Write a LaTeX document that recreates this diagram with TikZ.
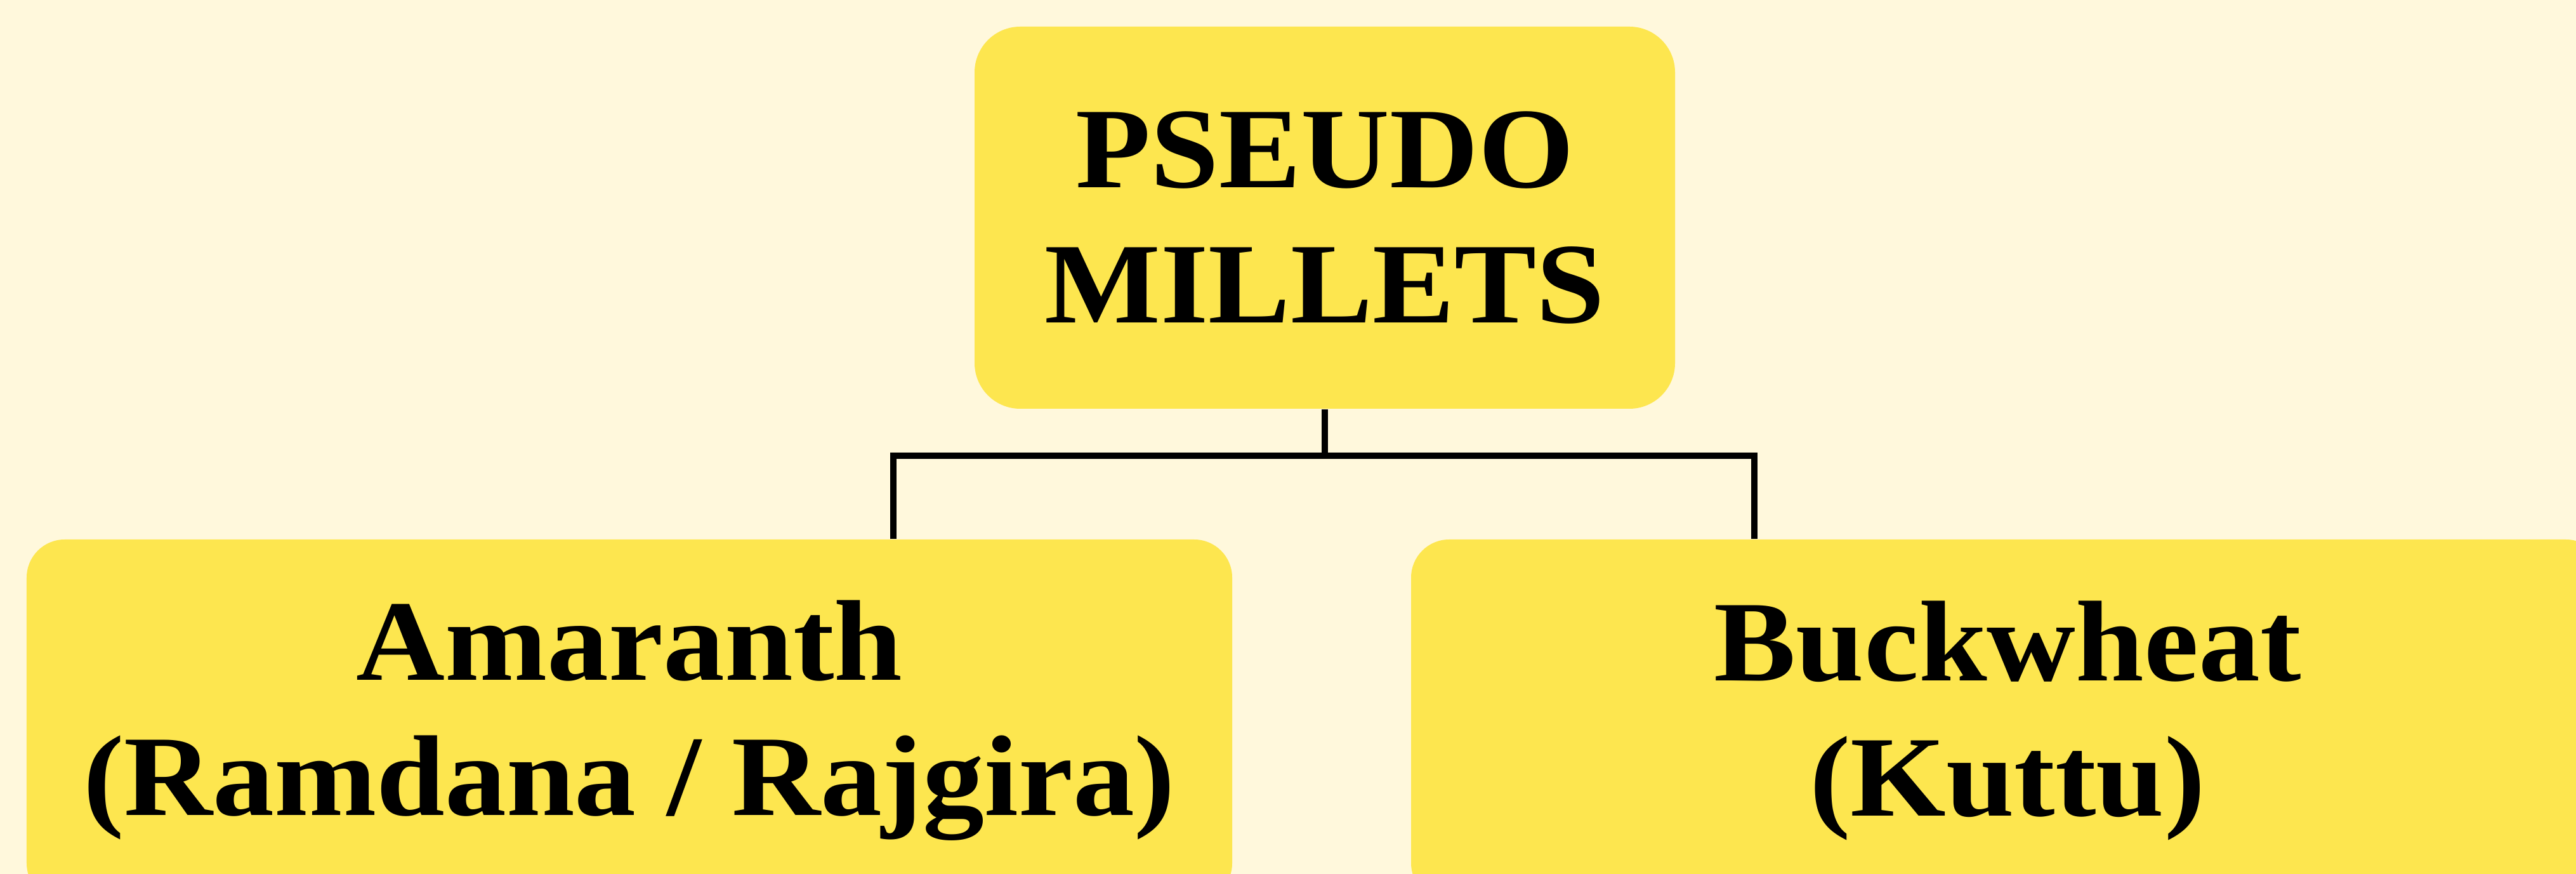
\documentclass[tikz,border=0pt]{standalone}
\usepackage{fontspec}
\setmainfont{Liberation Serif}[FakeStretch=1.07]
\usetikzlibrary{calc}

\definecolor{bgcream}{HTML}{FFF8DC}
\definecolor{boxyellow}{HTML}{FDE64F}

\tikzset{
    % Box styles - yellow, no outline
    box/.style={fill=boxyellow, draw=none, rounded corners=0.6cm, inner sep=0pt,
        align=center, font=\fontsize{51.5}{60.6}\selectfont\bfseries},
    % Connector lines
    link/.style={line width=2.85pt, black},
}

\begin{document}
\begin{tikzpicture}
    % Background
    \fill[bgcream] (0,0) rectangle (40.6,13.77);
    \useasboundingbox (0,0) rectangle (40.6,13.77);

    % Top box
    \node[box, rounded corners=0.72cm, minimum width=11.04cm, minimum height=6.02cm]
        (pm) at (20.88,10.34) {PSEUDO\\MILLETS};

    % Bottom boxes (run off the page)
    \node[box, minimum width=19cm, minimum height=5.7cm]
        (ama) at (9.92,2.42) {Amaranth\\(Ramdana / Rajgira)};
    \node[box, minimum width=18.8cm, minimum height=5.7cm]
        (buck) at (31.64,2.42) {Buckwheat\\(Kuttu)};

    % Connectors
    \draw[link] (pm.south) -- ++(0,-0.73) coordinate (bar);
    \draw[link] ([xshift=13.67cm]ama.north west) |- (bar) -| ([xshift=5.42cm]buck.north west);
\end{tikzpicture}
\end{document}
